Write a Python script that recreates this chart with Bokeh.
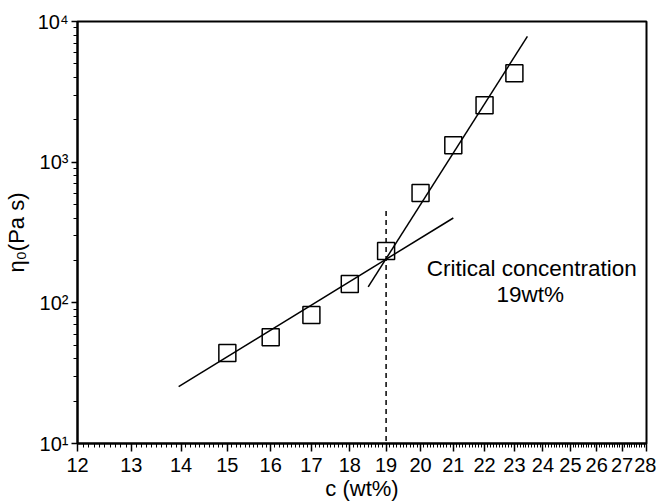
from bokeh.plotting import figure
from bokeh.models import Range1d, FixedTicker
from bokeh.core.properties import value
from bokeh.embed import file_html
from bokeh.resources import INLINE

# ---- data ----
conc = [15, 16, 17, 18, 19, 20, 21, 22, 23]
eta0 = [44, 57, 82, 136, 234, 603, 1320, 2540, 4280]

fit_low_c = [13.95, 21.0]
fit_low_eta = [25.4, 401]
fit_high_c = [18.5, 23.45]
fit_high_eta = [130, 7830]

crit_c = [19, 19]
crit_eta = [449, 10]

note_c = [23.6, 23.55]
note_eta = [174, 114]
note_text = ["Critical concentration", "19wt%"]

x_ticks = [12, 13, 14, 15, 16, 17, 18, 19, 20, 21, 22, 23, 24, 25, 26, 27, 28]
y_ticks = [10, 100, 1000, 10000]
y_tick_labels = ["10\u00b9", "10\u00b2", "10\u00b3", "10\u2074"]

FONT = "Liberation Sans"

p = figure(width=656, height=504, output_backend="svg", toolbar_location=None,
           x_axis_type="log", y_axis_type="log",
           x_range=Range1d(12, 28), y_range=Range1d(10, 10000),
           min_border_left=77, min_border_right=10, min_border_top=21, min_border_bottom=61)

p.background_fill_color = "white"
p.border_fill_color = "white"
p.outline_line_color = "black"
p.outline_line_width = 2
p.xgrid.visible = False
p.ygrid.visible = False

x_minor = [round(12 + i * 0.1, 1) for i in range(161) if i % 10]
y_minor = [m * 10 ** k for k in range(1, 4) for m in range(2, 10)]
p.xaxis.ticker = FixedTicker(ticks=x_ticks, minor_ticks=x_minor)
p.yaxis.ticker = FixedTicker(ticks=y_ticks, minor_ticks=y_minor)
p.yaxis.major_label_overrides = {t: l for t, l in zip(y_ticks, y_tick_labels)}
p.xaxis.major_label_overrides = {t: str(t) for t in x_ticks}

for ax in (p.xaxis, p.yaxis):
    ax.axis_line_width = 2
    ax.axis_line_color = "black"
    ax.major_tick_line_color = "black"
    ax.minor_tick_line_color = "black"
    ax.major_tick_line_width = 1.5
    ax.minor_tick_line_width = 1
    ax.major_tick_in = 0
    ax.minor_tick_in = 0
    ax.major_label_text_font = FONT
    ax.major_label_text_font_size = "20px"
    ax.major_label_text_color = "black"
    ax.axis_label_text_font = FONT
    ax.axis_label_text_font_size = "22px"
    ax.axis_label_text_font_style = "normal"
    ax.axis_label_text_color = "black"

p.xaxis.major_tick_out = 8
p.xaxis.minor_tick_out = 4
p.yaxis.major_tick_out = 6
p.yaxis.minor_tick_out = 4
p.xaxis.major_label_standoff = 6
p.yaxis.major_label_standoff = 3
p.xaxis.axis_label = "c (wt%)"
p.yaxis.axis_label = "\u03b7\u2080(Pa s)"
p.xaxis.axis_label_standoff = 1
p.yaxis.axis_label_standoff = 6

p.line(fit_low_c, fit_low_eta, line_color="black", line_width=1.5)
p.line(fit_high_c, fit_high_eta, line_color="black", line_width=1.5)
p.line(crit_c, crit_eta, line_color="black", line_width=1.5, line_dash="5 4")

p.scatter(conc, eta0, marker="square", size=17, fill_color=None,
          line_color="black", line_width=1.5)

p.text(x=note_c, y=note_eta, text=note_text, text_align="center", text_baseline="middle",
       text_font=value(FONT), text_font_size="22.5px", text_color="black")

open("out.html", "w").write(file_html(p, INLINE))
